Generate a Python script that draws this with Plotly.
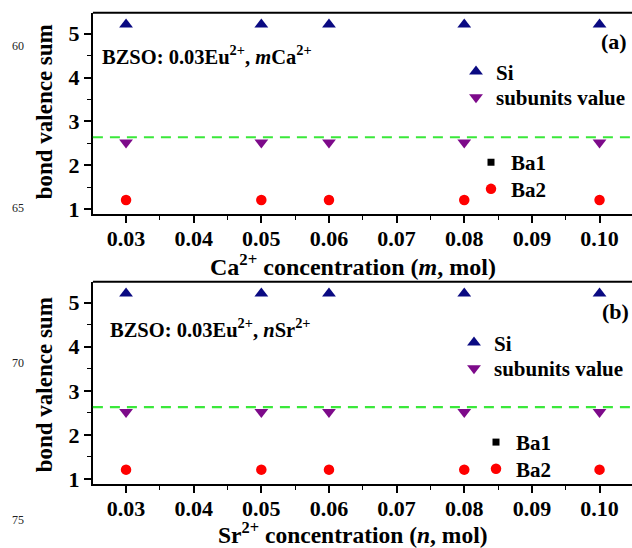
import plotly.graph_objects as go

# ---------------- data ----------------
conc = [0.03, 0.05, 0.06, 0.08, 0.10]
si_ca = [5.21, 5.21, 5.21, 5.21, 5.21]
sub_ca = [2.52, 2.52, 2.52, 2.52, 2.52]
ba1_ca = [1.21, 1.21, 1.21, 1.21, 1.21]
ba2_ca = [1.21, 1.21, 1.21, 1.21, 1.21]

si_sr = [5.21, 5.21, 5.21, 5.21, 5.21]
sub_sr = [2.52, 2.52, 2.52, 2.52, 2.52]
ba1_sr = [1.21, 1.21, 1.21, 1.21, 1.21]
ba2_sr = [1.21, 1.21, 1.21, 1.21, 1.21]

ref_ca = 2.64
ref_sr = 2.63

x_tickvals = [0.03, 0.04, 0.05, 0.06, 0.07, 0.08, 0.09, 0.10]
x_ticktext = ["0.03", "0.04", "0.05", "0.06", "0.07", "0.08", "0.09", "0.10"]
y_tickvals = [1, 2, 3, 4, 5]
y_ticktext = ["1", "2", "3", "4", "5"]
line_numbers = ["60", "65", "70", "75"]

# ---------------- style ----------------
SERIF = "Liberation Serif"
NAVY = "#0a0a82"
PURPLE = "#7d0a8a"
RED = "#ff0000"
GREEN = "#3ae83a"

fig = go.Figure()

def add_panel(xa, ya, si, sub, ba1, ba2, legs):
    fig.add_trace(go.Scatter(x=conc, y=si, mode="markers", name="Si",
                             marker=dict(symbol="triangle-up", size=12, color=NAVY),
                             xaxis=xa, yaxis=ya, legend=legs[0]))
    fig.add_trace(go.Scatter(x=conc, y=sub, mode="markers", name="subunits value",
                             marker=dict(symbol="triangle-down", size=12, color=PURPLE),
                             xaxis=xa, yaxis=ya, legend=legs[1]))
    fig.add_trace(go.Scatter(x=conc, y=ba1, mode="markers", name="Ba1",
                             marker=dict(symbol="square", size=7, color="black"),
                             xaxis=xa, yaxis=ya, legend=legs[2]))
    fig.add_trace(go.Scatter(x=conc, y=ba2, mode="markers", name="Ba2",
                             marker=dict(symbol="circle", size=10.5, color=RED),
                             xaxis=xa, yaxis=ya, legend=legs[3]))

add_panel("x", "y", si_ca, sub_ca, ba1_ca, ba2_ca, ["legend", "legend2", "legend3", "legend4"])
add_panel("x2", "y2", si_sr, sub_sr, ba1_sr, ba2_sr, ["legend5", "legend6", "legend7", "legend8"])

tickfont = dict(family=SERIF, size=22, color="black", weight="bold")

def xaxis_cfg(anchor):
    return dict(domain=[0.147, 1.0], anchor=anchor, range=[0.0251, 0.1048],
                tickmode="array", tickvals=x_tickvals, ticktext=x_ticktext,
                ticks="outside", ticklen=7, tickwidth=1.6, tickcolor="black",
                ticklabelstandoff=-3,
                minor=dict(tickmode="linear", tick0=0.025, dtick=0.005, ticks="outside",
                           ticklen=4, tickwidth=1.4, tickcolor="black"),
                showline=True, linecolor="black", linewidth=2,
                showgrid=False, zeroline=False, tickfont=tickfont)

def yaxis_cfg(anchor, dom):
    return dict(domain=dom, anchor=anchor, range=[0.895, 5.475],
                tickmode="array", tickvals=y_tickvals, ticktext=y_ticktext,
                ticks="outside", ticklen=7, tickwidth=1.6, tickcolor="black",
                minor=dict(tickmode="linear", tick0=0.5, dtick=0.5, ticks="outside",
                           ticklen=4, tickwidth=1.4, tickcolor="black"),
                showline=True, linecolor="black", linewidth=2,
                showgrid=False, zeroline=False, tickfont=tickfont)

leg_font = dict(family=SERIF, size=21, color="black", weight="bold")

def legend_cfg(xpx, ypx):
    # xpx, ypx: pixel position of the legend symbol centre
    return dict(x=(xpx - 20) / 632, y=1 - ypx / 548, xref="paper", yref="paper",
                xanchor="left", yanchor="middle",
                bgcolor="rgba(0,0,0,0)", font=leg_font, itemwidth=30)

fig.update_layout(
    width=632, height=548,
    margin=dict(l=0, r=0, t=0, b=0),
    paper_bgcolor="white", plot_bgcolor="white",
    xaxis=xaxis_cfg("y"),
    yaxis=yaxis_cfg("x", [0.604, 0.9763]),
    xaxis2=xaxis_cfg("y2"),
    yaxis2=yaxis_cfg("x2", [0.1046, 0.4781]),
    legend=legend_cfg(476, 73),
    legend2=legend_cfg(476, 99),
    legend3=legend_cfg(491, 165),
    legend4=legend_cfg(491, 192),
    legend5=legend_cfg(474, 348),
    legend6=legend_cfg(474, 374),
    legend7=legend_cfg(496, 449),
    legend8=legend_cfg(496, 476),
    showlegend=True,
)

# top border lines (no right axis visible)
for xr, yr in (("x domain", "y domain"), ("x2 domain", "y2 domain")):
    fig.add_shape(type="line", xref=xr, yref=yr, x0=0, x1=1, y0=1, y1=1,
                  line=dict(color="black", width=2))

# reference dashed lines
fig.add_shape(type="line", xref="x domain", yref="y", x0=0, x1=1, y0=ref_ca, y1=ref_ca,
              line=dict(color=GREEN, width=2.2, dash="10px,7px"))
fig.add_shape(type="line", xref="x2 domain", yref="y2", x0=0, x1=1, y0=ref_sr, y1=ref_sr,
              line=dict(color=GREEN, width=2.2, dash="10px,7px"))

ann_font = dict(family=SERIF, size=20.5, color="black", weight="bold")
lab_font = dict(family=SERIF, size=22, color="black", weight="bold")
xtitle_font = dict(family=SERIF, size=24, color="black", weight="bold")
xtitle2_font = dict(family=SERIF, size=23.5, color="black", weight="bold")
ytitle_font = dict(family=SERIF, size=23, color="black", weight="bold")

annotations = [
    dict(text="BZSO: 0.03Eu<sup>2+</sup>, <i>m</i>Ca<sup>2+</sup>", x=100 / 632, y=1 - 56 / 548,
         xanchor="left", yanchor="middle", font=ann_font),
    dict(text="BZSO: 0.03Eu<sup>2+</sup>, <i>n</i>Sr<sup>2+</sup>", x=108 / 632, y=1 - 333 / 548,
         xanchor="left", yanchor="middle", font=ann_font),
    dict(text="(a)", x=629 / 632, y=1 - 42 / 548, xanchor="right", yanchor="middle", font=lab_font),
    dict(text="(b)", x=631 / 632, y=1 - 316 / 548, xanchor="right", yanchor="middle", font=lab_font),
    dict(text="Ca<sup>2+</sup> concentration (<i>m</i>, mol)", x=353 / 632, y=1 - 269 / 548,
         xanchor="center", yanchor="middle", font=xtitle_font),
    dict(text="Sr<sup>2+</sup> concentration (<i>n</i>, mol)", x=353 / 632, y=1 - 541 / 548,
         xanchor="center", yanchor="middle", font=xtitle2_font),
    dict(text="bond valence sum", x=44 / 632, y=1 - 114 / 548, textangle=-90,
         xanchor="center", yanchor="middle", font=ytitle_font),
    dict(text="bond valence sum", x=44 / 632, y=1 - 391 / 548, textangle=-90,
         xanchor="center", yanchor="middle", font=ytitle_font),
]
for txt, ypx in zip(line_numbers, [47, 211, 368, 528]):
    annotations.append(dict(text=txt, x=18 / 632, y=1 - ypx / 548, xanchor="center",
                            yanchor="middle", font=dict(family=SERIF, size=12, color="#222")))
for a in annotations:
    a.update(xref="paper", yref="paper", showarrow=False)
fig.update_layout(annotations=annotations)

fig.write_html("out.html")
